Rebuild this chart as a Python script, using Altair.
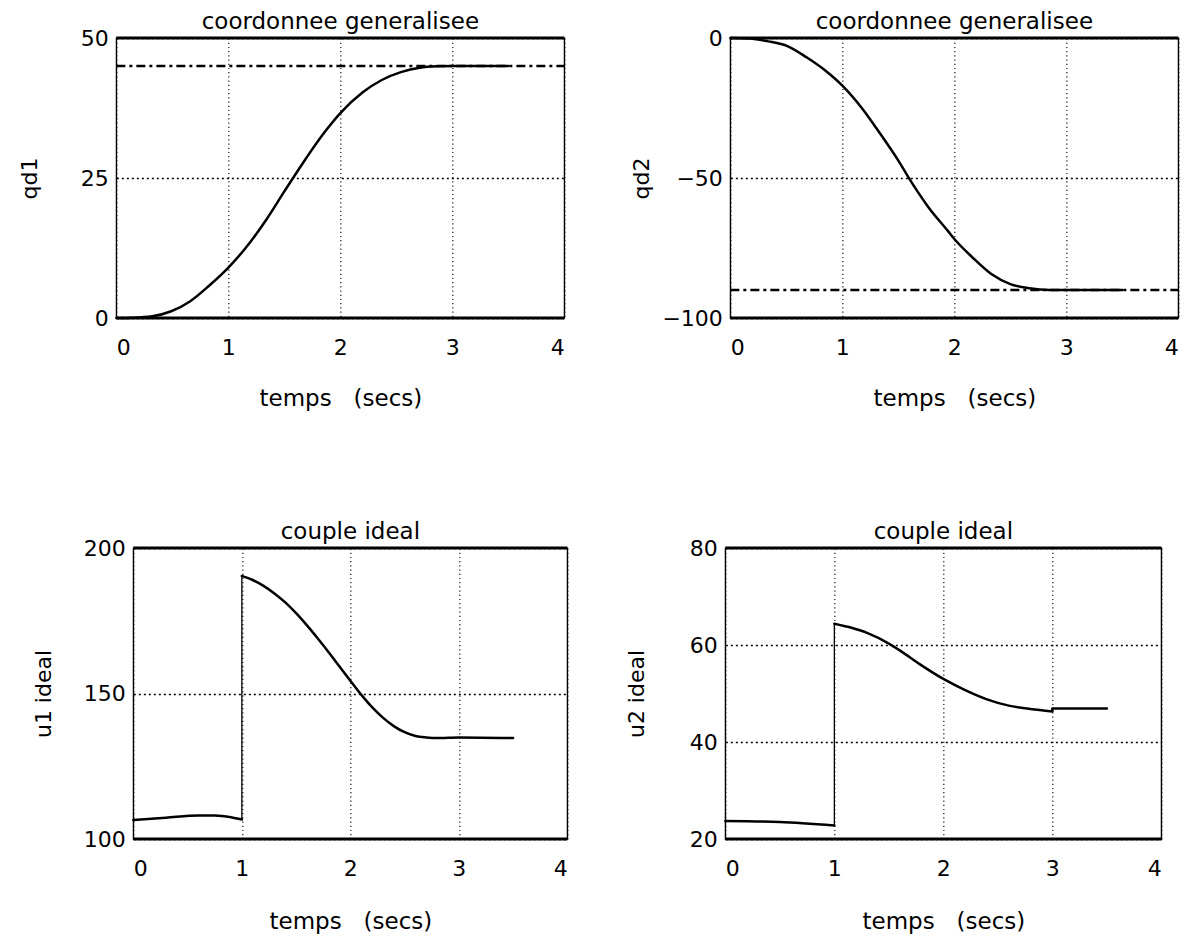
import altair as alt
import pandas as pd

FONT = "DejaVu Sans"

# ---- data ----
t_q1 = [0, 0.15, 0.32, 0.49, 0.66, 0.83, 1.0, 1.17, 1.34, 1.5, 1.69, 1.86, 2.0, 2.2, 2.37, 2.54, 2.71, 2.88, 3.0, 3.5]
q1 = [0, 0.05, 0.3, 1.2, 3.0, 5.8, 9.0, 12.9, 17.6, 22.6, 28.4, 33.2, 36.6, 40.3, 42.5, 43.9, 44.7, 44.95, 45.0, 45.0]
q1_ref = [45]

t_q2 = [0, 0.17, 0.34, 0.51, 0.68, 0.85, 1.0, 1.17, 1.34, 1.5, 1.6, 1.77, 1.94, 2.0, 2.16, 2.33, 2.5, 2.67, 2.85, 3.0, 3.5]
q2 = [0, -0.2, -1.2, -2.9, -6.9, -11.7, -17.0, -24.8, -34.3, -43.8, -50.4, -60.5, -68.8, -71.8, -78.3, -84.3, -87.9, -89.4, -90.0, -90.0, -90.0]
q2_ref = [-90]

t_u1_a = [0, 0.3, 0.6, 0.75, 0.9, 1.0]
u1_a = [106.5, 107.3, 108.1, 108.1, 107.5, 106.7]
t_u1_b = [1.0, 1.1, 1.2, 1.3, 1.4, 1.5, 1.6, 1.7, 1.8, 1.9, 2.0, 2.1, 2.2, 2.3, 2.4, 2.5, 2.6, 2.7, 2.8, 3.0, 3.5]
u1_b = [190.4, 189.0, 187.0, 184.4, 181.3, 177.6, 173.4, 168.9, 164.2, 159.3, 154.4, 149.6, 145.3, 141.7, 138.8, 136.7, 135.4, 134.9, 134.7, 134.9, 134.7]

t_u2_a = [0, 0.5, 1.0]
u2_a = [23.7, 23.5, 22.8]
t_u2_b = [1.0, 1.15, 1.3, 1.5, 1.6, 1.8, 2.0, 2.2, 2.4, 2.6, 2.8, 3.0]
u2_b = [64.4, 63.6, 62.5, 60.3, 58.9, 55.8, 53.0, 50.7, 48.8, 47.5, 46.8, 46.3]
t_u2_c = [3.0, 3.5]
u2_c = [46.9, 46.9]

x_ticks = [0, 1, 2, 3, 4]
x_domain = [0, 4]
x_title = "temps\u00a0\u00a0\u00a0(secs)"
title_top = "coordonnee generalisee"
title_bottom = "couple ideal"


def make_df(segments):
    rows = []
    i = 0
    for s, (ts, vs) in enumerate(segments):
        for t, v in zip(ts, vs):
            rows.append({"t": t, "v": v, "seg": s, "i": i})
            i += 1
    return pd.DataFrame(rows)


def panel(segments, ydom, yvals, ytitle, title, w, h, title_x, xtitle_y,
          ref=None, jump_widths=()):
    df = make_df(segments)
    x = alt.X("t:Q", scale=alt.Scale(domain=x_domain, nice=False, zero=False),
              axis=alt.Axis(values=x_ticks, title=x_title, titleY=xtitle_y, format="d"))
    y = alt.Y("v:Q", scale=alt.Scale(domain=ydom, nice=False, zero=False),
              axis=alt.Axis(values=yvals, title=ytitle, titleX=title_x, titleY=h / 2, format="d"))
    layers = []
    if ref is not None:
        layers.append(
            alt.Chart(pd.DataFrame({"v": ref})).mark_rule(
                color="black", strokeWidth=2.4, strokeDash=[9, 4, 3, 4]
            ).encode(x=alt.datum(x_domain[0]), x2=alt.datum(x_domain[1]), y=alt.Y("v:Q"))
        )
    layers.append(
        alt.Chart(df).mark_line(color="black", strokeWidth=2.5, interpolate="monotone",
                                strokeJoin="round", strokeCap="round").encode(
            x=x, y=y, detail="seg:N", order="i:Q")
    )
    # connectors between consecutive segments (discontinuities)
    for k, jw in enumerate(jump_widths):
        a = segments[k]
        b = segments[k + 1]
        jdf = pd.DataFrame({"t": [a[0][-1], b[0][0]], "v": [a[1][-1], b[1][0]]})
        layers.append(
            alt.Chart(jdf).mark_line(color="black", strokeWidth=jw).encode(x="t:Q", y="v:Q")
        )
    border = pd.DataFrame({"v": [ydom[0], ydom[1]]})
    layers.append(
        alt.Chart(border).mark_rule(color="black", strokeWidth=3.2).encode(
            x=alt.datum(x_domain[0]), x2=alt.datum(x_domain[1]), y=alt.Y("v:Q"))
    )
    return alt.layer(*layers).properties(
        width=w, height=h,
        title=alt.TitleParams(title, font=FONT, fontSize=23, fontWeight="normal",
                              color="black", offset=-7, anchor="middle", frame="group"),
    )


p1 = panel([(t_q1, q1)], [0, 50], [0, 25, 50], "qd1", title_top, 448, 280, -87, 80, ref=q1_ref)
p2 = panel([(t_q2, q2)], [-100, 0], [-100, -50, 0], "qd2", title_top, 448, 280, -89, 80, ref=q2_ref)
p3 = panel([(t_u1_a, u1_a), (t_u1_b, u1_b)], [100, 200], [100, 150, 200], "u1 ideal",
           title_bottom, 434, 291, -90, 82, jump_widths=(1.3,))
p4 = panel([(t_u2_a, u2_a), (t_u2_b, u2_b), (t_u2_c, u2_c)], [20, 80], [20, 40, 60, 80], "u2 ideal",
           title_bottom, 436, 291, -89, 82, jump_widths=(1.3, 2.5))

top_row = alt.hconcat(p1, p2, spacing=166, bounds="flush")
bottom_row = alt.hconcat(p3, p4, spacing=158, bounds="flush")

chart = alt.vconcat(top_row, bottom_row, spacing=109, center=True).properties(
    padding={"left": 17, "top": 10, "right": 5, "bottom": 2},
    background="white",
).configure_view(
    stroke="black", strokeWidth=1.4
).configure_axis(
    labelFont=FONT, labelFontSize=22, labelColor="black",
    titleFont=FONT, titleFontSize=23, titleFontWeight="normal", titleColor="black",
    titleBaseline="middle",
    domain=False, ticks=False, grid=True, gridColor="black",
).configure_axisX(
    labelPadding=19, gridDash=[1.2, 3], gridWidth=1.1, titleAngle=0,
).configure_axisY(
    labelPadding=8, gridDash=[2, 3], gridWidth=1.6, titleAngle=-90, titleFontSize=22,
)

chart.save("out.html", embed_options={"renderer": "svg", "actions": False})
